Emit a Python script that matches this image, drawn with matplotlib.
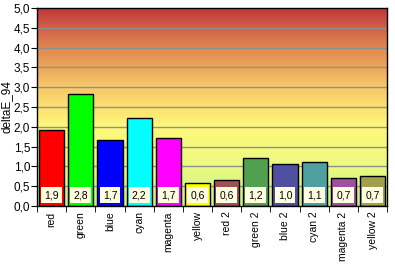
import numpy as np
import matplotlib.pyplot as plt
from matplotlib.colors import LinearSegmentedColormap

categories = ["red", "green", "blue", "cyan", "magenta", "yellow",
              "red 2", "green 2", "blue 2", "cyan 2", "magenta 2", "yellow 2"]
values = [1.92, 2.83, 1.67, 2.22, 1.72, 0.58, 0.66, 1.21, 1.06, 1.11, 0.70, 0.75]
labels = ["1,9", "2,8", "1,7", "2,2", "1,7", "0,6", "0,6", "1,2", "1,0", "1,1", "0,7", "0,7"]
colors = ["#ff0000", "#00ff00", "#0000ff", "#00ffff", "#ff00ff", "#ffff00",
          "#a05050", "#50a050", "#5050a0", "#50a0a0", "#a050a0", "#a0a050"]
yticks = [0, 0.5, 1, 1.5, 2, 2.5, 3, 3.5, 4, 4.5, 5]

plt.rcParams['font.family'] = ['Liberation Sans', 'DejaVu Sans']

fig = plt.figure(figsize=(3.95, 2.65), dpi=100)
ax = fig.add_axes([0.094, 0.223, 0.886, 0.747])

n = len(categories)
x = np.arange(n)

# background gradient (bottom -> top)
bg = LinearSegmentedColormap.from_list("bg", [
    (0.0, "#c8f08c"), (0.2, "#ecfa80"), (0.4, "#fff87a"),
    (0.6, "#f8c868"), (0.8, "#e08850"), (0.9, "#d06048"), (1.0, "#c0383a")])
grad = np.linspace(0, 1, 256).reshape(-1, 1)
ax.imshow(grad, aspect="auto", cmap=bg, origin="lower",
          extent=[-0.5, n - 0.5, 0, 5], zorder=0)

for yv in yticks[1:-1]:
    ax.axhline(yv, color="#909090", lw=1, zorder=1)

ax.bar(x, values, width=0.86, color=colors, edgecolor="black", lw=1, zorder=2)

for xi, lab in zip(x, labels):
    ax.text(xi, 0.27, lab, ha="center", va="center", fontsize=7.5, zorder=3,
            bbox=dict(boxstyle="square,pad=0.3", fc="#fffde0", ec="none"))

ax.set_xlim(-0.5, n - 0.5)
ax.set_ylim(0, 5)
ax.set_yticks(yticks)
ax.set_yticklabels([f"{v:.1f}".replace(".", ",") for v in yticks], fontsize=8.5)
ax.set_xticks(x)
ax.set_xticklabels(categories, rotation=90, fontsize=7.5)
ax.tick_params(axis="x", length=0, pad=4)
ax.set_xticks(np.arange(n + 1) - 0.5, minor=True)
ax.tick_params(axis="x", which="minor", length=4, direction="out")
ax.tick_params(axis="y", length=4, direction="out", pad=1)
ax.set_ylabel("deltaE_94", fontsize=8.5, labelpad=1)

for s in ax.spines.values():
    s.set_color("black")
    s.set_linewidth(1)

fig.savefig("out.png", dpi=100)
